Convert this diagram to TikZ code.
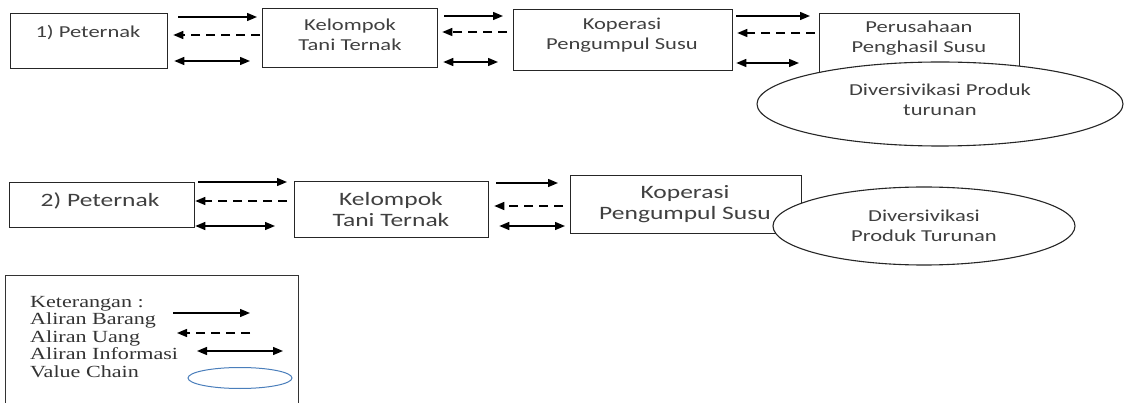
\documentclass[tikz,border=0pt]{standalone}
\usepackage{fontspec}
\usepackage{graphicx}
\newfontfamily\calfont{Carlito}
\newfontfamily\tnrfont{Liberation Serif}
\newcommand\sxa[1]{\scalebox{1.35}[1]{#1}}
\newcommand\sxt[1]{\scalebox{1.3}[1]{#1}}
\usetikzlibrary{arrows.meta,calc,shapes.geometric}
\definecolor{legblue}{HTML}{4A7EBB}
\begin{document}
\begin{tikzpicture}[x=1pt,y=-1pt,
  box/.style={draw=black!85, line width=1.3pt, rectangle, anchor=north west, inner sep=0pt},
  oval/.style={draw=black!85, line width=1.1pt, ellipse, fill=white, inner sep=0pt},
  labA/.style={font=\calfont\fontsize{16.7}{20}\selectfont, text=black!75, align=center, inner sep=0pt},
  labB/.style={font=\calfont\fontsize{18.9}{21.5}\selectfont, text=black!75, align=center, inner sep=0pt},
  legtxt/.style={font=\tnrfont\fontsize{17}{17.5}\selectfont, text=black!80, align=left, inner sep=0pt},
  flow/.style={line width=1.4pt, draw=black},
  barang/.style={flow, -{Triangle[length=10pt,width=8pt]}},
  uang/.style={flow, dash pattern=on 9pt off 6pt, -{Triangle[length=10pt,width=8pt]}},
  info/.style={flow, {Triangle[length=10pt,width=8pt]}-{Triangle[length=10pt,width=8pt]}},
]
\useasboundingbox (0,0) rectangle (1127,403);

% ---------- Row 1 ----------
\node[box, minimum width=157pt, minimum height=55pt] (p1) at (10,13) {};
\node[box, minimum width=175pt, minimum height=59pt] (k1) at (262,8) {};
\node[box, minimum width=219pt, minimum height=61pt] (ko1) at (513,9) {};
\node[box, minimum width=200pt, minimum height=62pt] (pe1) at (819,13) {};
\node[oval, minimum width=366pt, minimum height=84pt] (e1) at (940,104) {};

\node[labA] (p1t) at (88,33) {\sxa{1) Peternak}};
\node[labA] (k1t) at (350,35) {\sxa{Kelompok}\\\sxa{Tani Ternak}};
\node[labA] (ko1t) at (622,35) {\sxa{Koperasi}\\\sxa{Pengumpul Susu}};
\node[labA] (pe1t) at (919,38.5) {\sxa{Perusahaan}\\\sxa{Penghasil Susu}};
\node[labA] (e1t) at (940,100) {\sxa{Diversivikasi Produk}\\\sxa{turunan}};

\draw[barang] ($(p1.north east)+(10,4)$) -- ($(k1.north west)+(-5,9)$);
\draw[uang]   ($(k1.north west)+(-2,27)$) -- ($(p1.north east)+(5,22)$);
\draw[info]   ($(p1.north east)+(6,48)$) -- ($(k1.north west)+(-12,53)$);

\draw[barang] ($(k1.north east)+(6,8)$) -- ($(ko1.north west)+(-10,7)$);
\draw[uang]   ($(ko1.north west)+(-6,23)$) -- ($(k1.north east)+(4,24)$);
\draw[info]   ($(k1.north east)+(5,54)$) -- ($(ko1.north west)+(-15,53)$);

\draw[barang] ($(ko1.north east)+(3,7)$) -- ($(pe1.north west)+(-9,3)$);
\draw[uang]   ($(pe1.north west)+(-4,20)$) -- ($(ko1.north east)+(4,24)$);
\draw[info]   ($(ko1.north east)+(3,54)$) -- ($(pe1.north west)+(-20,50)$);

% ---------- Row 2 ----------
\node[box, minimum width=185pt, minimum height=45pt] (p2) at (9,182) {};
\node[box, minimum width=194pt, minimum height=56pt] (k2) at (294,181) {};
\node[box, minimum width=231pt, minimum height=58pt] (ko2) at (570,175) {};
\node[oval, minimum width=302pt, minimum height=78pt] (e2) at (924,226) {};

\node[labB] (p2t) at (100,201) {\sxa{2) Peternak}};
\node[labB] (k2t) at (391,209.5) {\sxa{Kelompok}\\\sxa{Tani Ternak}};
\node[labB] (ko2t) at (685,204) {\sxa{Koperasi}\\\sxa{Pengumpul Susu}};
\node[labA] (e2t) at (924,226) {\sxa{Diversivikasi}\\\sxa{Produk Turunan}};

\draw[barang] ($(p2.north east)+(3,0)$) -- ($(k2.north west)+(-7,1)$);
\draw[uang]   ($(k2.north west)+(-7,20)$) -- ($(p2.north east)+(0,19)$);
\draw[info]   ($(p2.north east)+(0,44)$) -- ($(k2.north west)+(-19,45)$);

\draw[barang] ($(k2.north east)+(7,2)$) -- ($(ko2.north west)+(-12,8)$);
\draw[uang]   ($(ko2.north west)+(-7,31)$) -- ($(k2.north east)+(5,25)$);
\draw[info]   ($(k2.north east)+(10,45)$) -- ($(ko2.north west)+(-5,51)$);

% ---------- Legend ----------
\node[draw=black!80, line width=1pt, rectangle, anchor=north west, inner sep=0pt,
      minimum width=293pt, minimum height=150pt] (legend) at (5,275) {};
\node[legtxt, anchor=west] (lt) at (30,337) {\sxt{Keterangan :}\\\sxt{Aliran Barang}\\\sxt{Aliran Uang}\\\sxt{Aliran Informasi}\\\sxt{Value Chain}};
\coordinate (lb1) at (173,313);
\coordinate (lb2) at (250,313);
\coordinate (lu1) at (250,333);
\coordinate (lu2) at (177,333);
\coordinate (li1) at (197,351);
\coordinate (li2) at (283,351);
\draw[barang] (lb1) -- (lb2);
\draw[uang] (lu1) -- (lu2);
\draw[info] (li1) -- (li2);
\node[draw=legblue, line width=1pt, ellipse, inner sep=0pt, minimum width=104pt, minimum height=21pt] (lv) at (240,378) {};
\end{tikzpicture}
\end{document}
